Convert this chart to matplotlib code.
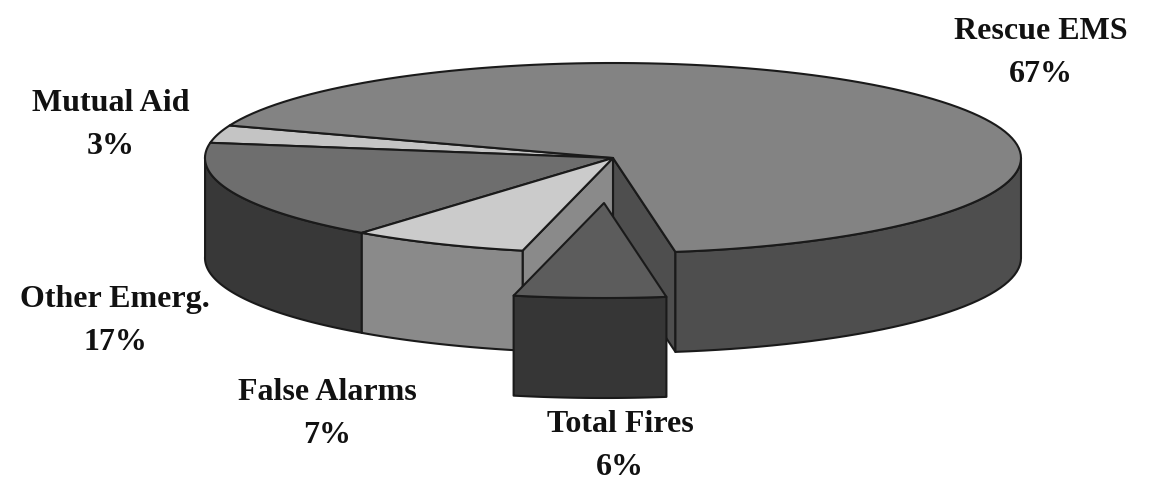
import numpy as np
import matplotlib
matplotlib.use('Agg')
import matplotlib.pyplot as plt
from matplotlib.patches import Polygon

categories = ['Rescue EMS', 'Total Fires', 'False Alarms', 'Other Emerg.', 'Mutual Aid']
values = [67, 6, 7, 17, 3]
top_colors = ['#838383', '#5c5c5c', '#cbcbcb', '#6e6e6e', '#c4c4c4']
side_colors = ['#4e4e4e', '#363636', '#8a8a8a', '#383838', '#8e8e8e']
explode = [(0, 0), (-9, 45), (0, 0), (0, 0), (0, 0)]
# which cut faces of each slice can be seen: (at its first angle, at its last angle)
cut_faces = [(False, True), (False, False), (True, False), (False, False), (False, False)]
label_pos = [(1041, 53), (620, 446), (327, 414), (115, 321), (111, 125)]

W, H = 1152, 484
CX, CY, RX, RY, DEPTH = 613, 158, 408, 95, 100
START = 160.0

plt.rcParams['font.family'] = ['Liberation Serif', 'DejaVu Serif']
fig = plt.figure(figsize=(W / 100, H / 100), dpi=100)
ax = fig.add_axes([0, 0, 1, 1])
ax.set_xlim(0, W)
ax.set_ylim(H, 0)
ax.axis('off')


def pt(a, off=(0, 0), d=0):
    r = np.radians(a)
    return (CX + off[0] + RX * np.cos(r), CY + off[1] + d + RY * np.sin(-r))


def draw_wedge(a0, a1, off, top, side, faces, z):
    angs = np.linspace(a0, a1, 120)
    edge = [pt(a, off) for a in angs]
    apex = (CX + off[0], CY + off[1])
    kw = dict(edgecolor='#1a1a1a', linewidth=1.5, joinstyle='round')
    for a, show in zip((a0, a1), faces):
        if show:
            p = pt(a, off)
            ax.add_patch(Polygon([apex, p, (p[0], p[1] + DEPTH), (apex[0], apex[1] + DEPTH)],
                                 facecolor=side, zorder=z, **kw))
    vis = [a for a in angs if np.sin(np.radians(a)) <= 0.02]
    if vis:
        poly = [pt(a, off) for a in vis] + [pt(a, off, DEPTH) for a in vis[::-1]]
        ax.add_patch(Polygon(poly, facecolor=side, zorder=z + 0.1, **kw))
    ax.add_patch(Polygon([apex] + edge, facecolor=top, zorder=z + 0.2, **kw))


fracs = np.array(values) / sum(values) * 360
ang = START
spans = []
for f in fracs:
    spans.append((ang, ang - f))
    ang -= f

order = [4, 0, 3, 2, 1]
for z, i in enumerate(order):
    draw_wedge(spans[i][0], spans[i][1], explode[i], top_colors[i], side_colors[i], cut_faces[i], z + 1)

for name, v, (x, y) in zip(categories, values, label_pos):
    ax.text(x, y, f'{name}\n{v}%', ha='center', va='center', fontsize=23,
            fontweight='bold', color='#111111', linespacing=1.6, zorder=10)

fig.savefig('out.png', dpi=100, facecolor='white')
